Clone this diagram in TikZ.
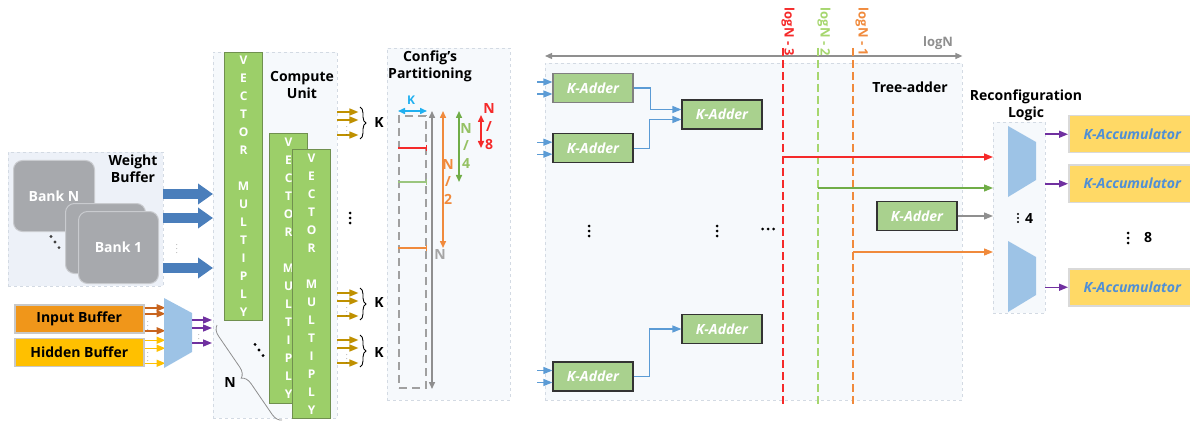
\documentclass[tikz,border=0pt]{standalone}
\usepackage{fontspec}
\setmainfont{Open Sans}
\usepackage{tikz}
\usetikzlibrary{shapes, arrows.meta, positioning, decorations.pathreplacing}
\definecolor{panelfill}{HTML}{F6F9FC}
\definecolor{panelline}{HTML}{D3DAE3}
\definecolor{wbfill}{HTML}{EDF1F8}
\definecolor{bankgray}{HTML}{A7A9AD}
\definecolor{banklight}{HTML}{C9CBCF}
\definecolor{fatblue}{HTML}{4A7EBB}
\definecolor{inorange}{HTML}{F0961A}
\definecolor{hidyellow}{HTML}{FFC000}
\definecolor{bufline}{HTML}{C8C8C8}
\definecolor{arrorange}{HTML}{C8641E}
\definecolor{muxblue}{HTML}{9DC3E6}
\definecolor{vpurple}{HTML}{7030A0}
\definecolor{vmgreen}{HTML}{9CCF69}
\definecolor{vmline}{HTML}{70904F}
\definecolor{kgold}{HTML}{BF9000}
\definecolor{kblue}{HTML}{20B0F0}
\definecolor{pred}{HTML}{F52A2A}
\definecolor{pgreen}{HTML}{70AD47}
\definecolor{lgreen}{HTML}{A6D66E}
\definecolor{porange}{HTML}{F08A3C}
\definecolor{pgray}{HTML}{8F8F8F}
\definecolor{partgray}{HTML}{A0A0A0}
\definecolor{addgreen}{HTML}{A9D18E}
\definecolor{wireblue}{HTML}{5B9BD5}
\definecolor{accyellow}{HTML}{FFD966}
\definecolor{accline}{HTML}{D9D9D9}
\definecolor{acctext}{HTML}{4F8FD6}
\newcommand{\lbl}{\bfseries\fontsize{14}{17}\selectfont}
\newcommand{\vmtext}{V\\E\\C\\T\\O\\R\\[18pt]M\\U\\L\\T\\I\\P\\L\\Y}
\tikzstyle{panel} = [draw=panelline, dashed, fill=panelfill, rectangle,
    inner sep=0pt, anchor=north west]
\tikzstyle{bank} = [draw=banklight, line width=1pt, fill=bankgray, rectangle,
    rounded corners=9pt, anchor=north west, text=white, font=\lbl]
\tikzstyle{buffer} = [draw=bufline, line width=1.5pt, rectangle,
    minimum width=129pt, minimum height=28pt, font=\lbl]
\tikzstyle{vecmul} = [draw=vmline, line width=1.2pt, fill=vmgreen, rectangle,
    anchor=north west, minimum width=38pt, inner sep=0pt, align=center,
    text=white, font=\bfseries\fontsize{12}{18}\selectfont]
\tikzstyle{adder} = [draw=black!80, line width=1.2pt, fill=addgreen, rectangle,
    minimum width=80pt, minimum height=29pt, text=white,
    font=\bfseries\itshape\fontsize{14}{16}\selectfont]
\tikzstyle{accum} = [draw=accline, line width=1.5pt, fill=accyellow, rectangle,
    anchor=north west, minimum width=127pt, minimum height=37pt, text=acctext,
    font=\bfseries\itshape\fontsize{14}{16}\selectfont]
\tikzstyle{title} = [font=\lbl, align=center]
\tikzstyle{tinydots} = [font=\fontsize{6}{6}\selectfont, inner sep=0pt, text=black!70]
\tikzstyle{arr} = [line width=1.5pt, -{Triangle[length=9pt,width=7pt]}]
\tikzstyle{dbl} = [line width=1.5pt, {Triangle[length=7pt,width=6pt]}-{Triangle[length=7pt,width=6pt]}]
\tikzstyle{fat} = [draw=fatblue, line width=10pt, -{Triangle[length=15pt,width=20pt]}]
\tikzstyle{wire} = [draw=wireblue, line width=1.2pt, -{Triangle[length=9pt,width=7pt]}]
\tikzstyle{vdash} = [line width=1.5pt, dash pattern=on 8pt off 4pt]
\tikzset{
    vdots/.pic={\foreach \i in {-5,0,5} \fill (0,\i) circle (1.5);},
    hdots/.pic={\foreach \i in {-5.5,0,5.5} \fill (\i,0) circle (1.5);},
    ddots/.pic={\foreach \i in {-4,0,4} \fill (\i,1.4*\i) circle (1.6);}
}

\begin{document}
\begin{tikzpicture}[x=1pt, y=-1pt, node distance=4pt]
    \useasboundingbox (0,0) rectangle (1190,422);
    \node [panel, fill=wbfill, minimum width=155pt, minimum height=134pt] (wbuf) at (8,152) {};
    \node [panel, minimum width=124pt, minimum height=366pt] (cu) at (213,52) {};
    \node [panel, minimum width=123pt, minimum height=352pt] (cfg) at (387,48) {};
    \node [panel, minimum width=417pt, minimum height=337pt] (tree) at (545,63) {};
    \node [panel, minimum width=52pt, minimum height=191pt] (recon) at (993,122) {};

    \node [bank, minimum width=81pt, minimum height=71pt] (bankN) at (13,160) {Bank N};
    \node [bank, minimum width=80pt, minimum height=70pt] (bankB) at (65,203) {};
    \node [bank, minimum width=80pt, minimum height=72pt] (bank1) at (78,211) {Bank 1};
    \pic [black!75] at (55,242) {ddots};
    \node [title] (wbtitle) at (133,169) {Weight\\Buffer};
    \foreach \y in {194,218,268}
        \draw [fat] (wbuf.east |- 0,\y) -- (cu.west |- 0,\y);
    \node [tinydots] (wdots) at (177,246) {$\vdots$};

    \node [buffer, fill=inorange, anchor=north west] (inbuf) at (14,304) {Input Buffer};
    \node [buffer, fill=hidyellow, below=of inbuf] (hidbuf) {Hidden Buffer};
    \foreach \d in {11,5,-12}
        \draw [arr, arrorange] ([yshift=\d]inbuf.east) -- ++(21,0);
    \foreach \d in {12,4,-11}
        \draw [arr, hidyellow] ([yshift=\d]hidbuf.east) -- ++(21,0);
    \node [tinydots] at (148,323) {$\vdots$};
    \node [tinydots] at (148,354) {$\vdots$};
    \fill [muxblue] (164,298) -- (192,313) -- (192,352) -- (164,368) -- cycle;
    \coordinate (lmux) at (192,332);
    \foreach \d in {12,4,-11}
        \draw [arr, vpurple] ([yshift=\d]lmux) -- ++(20,0);
    \node [tinydots] at (199,336) {$\vdots$};

    \node [vecmul, minimum height=268pt] (vm1) at (224,52) {\vmtext};
    \node [vecmul, minimum height=270pt] (vm2) at (269,133) {\vmtext};
    \node [vecmul, minimum height=269pt] (vm3) at (292,149) {\vmtext};
    \node [title] (cutitle) at (302,85) {Compute\\Unit};
    \pic at (259,350) {ddots};
    \pic at (350,218) {vdots};
    \draw [pgray, line width=0.8pt, decorate, decoration={brace, amplitude=10pt}]
        (282,420) -- (217,325);
    \node [font=\lbl] (nlbl) at (230,383) {N};
    \foreach \y/\k in {112/123,293/303,340/352} {
        \foreach \d in {0,8,23}
            \draw [arr, kgold] (cu.east |- 0,\y+\d) -- ++(21,0);
        \node [tinydots] at (347,\y+16) {$\vdots$};
        \draw [line width=0.9pt, decorate, decoration={brace, amplitude=6pt}]
            (360,\y-5) -- (360,\y+27);
        \node [font=\lbl] at (379,\k) {K};
    }

    \node [title] (cfgtitle) at (430,66) {Config’s\\Partitioning};
    \node [draw=partgray, line width=2pt, dash pattern=on 8pt off 5pt, rectangle,
        inner sep=0pt, anchor=north west, minimum width=27pt, minimum height=272pt] (part) at (398,115) {};
    \draw [dbl, kblue] ([yshift=4pt]part.north west) -- ([yshift=4pt]part.north east);
    \node [text=kblue, font=\bfseries\fontsize{12}{12}\selectfont] (klbl) at (411,100) {K};
    \coordinate (p8) at (part.east |- 0,148);
    \coordinate (p4) at (part.east |- 0,182);
    \coordinate (p2) at (part.east |- 0,248);
    \draw [pred, line width=1.2pt, -{Bar[width=6pt]}] (part.west |- p8) -- (p8);
    \draw [pgreen!70, line width=1.2pt, -{Bar[width=6pt]}] (part.west |- p4) -- (p4);
    \draw [porange, line width=1.2pt, -{Bar[width=6pt]}] (part.west |- p2) -- (p2);
    \draw [dbl, pgray] ([xshift=5pt,yshift=4pt]part.north east) -- ([xshift=5pt]part.south east);
    \draw [dbl, porange] ([xshift=16pt,yshift=4pt]part.north east) -- ([xshift=16pt]p2);
    \draw [dbl, pgreen] ([xshift=32pt,yshift=4pt]part.north east) -- ([xshift=32pt]p4);
    \draw [dbl, pred] ([xshift=54pt]part.north east) -- ([xshift=54pt]p8);
    \node [font=\lbl, text=pgray!80] (nN) at (440,255) {N};
    \node [title, font=\bfseries\fontsize{14}{17.5}\selectfont, text=porange] (n2) at (448,182) {N\\/\\2};
    \node [title, font=\bfseries\fontsize{14}{17.5}\selectfont, text=lgreen!90!black] (n4) at (466,146) {N\\/\\4};
    \node [title, font=\bfseries\fontsize{14}{18}\selectfont, text=pred] (n8) at (489,127) {N\\/\\8};

    \draw [dbl, pgray, line width=1.2pt] ([yshift=7pt]tree.north west) -- ([yshift=7pt]tree.north east);
    \node [font=\bfseries\fontsize{13}{13}\selectfont, text=pgray] (lognlbl) at (938,43) {logN};
    \foreach \x/\c/\n/\tx in {783/pred/3/788,818/lgreen/2/824,853/porange/1/862} {
        \coordinate (d\n) at (\x,48);
        \draw [vdash, \c] (d\n) -- (\x,406);
        \node [rotate=-90, text=\c, font=\bfseries\fontsize{13}{13}\selectfont] at (\tx,32) {logN - \n};
    }
    \node [title] (treetitle) at (910,87) {Tree-adder};

    \node [adder, draw=gray] (a1) at (593,88) {K-Adder};
    \node [adder, below=30pt of a1] (a2) {K-Adder};
    \node [adder] (b1) at (722,114.5) {K-Adder};
    \node [adder] (a3) at (593,376.5) {K-Adder};
    \node [adder] (b2) at (722,329) {K-Adder};
    \node [adder] (c1) at (917,216) {K-Adder};
    \foreach \n in {a1,a2,a3}
        \foreach \d in {6,-6}
            \draw [wire] ([xshift=-15pt,yshift=\d]\n.west) -- ([yshift=\d]\n.west);
    \draw [wire] (a1.east) -- ++(17,0) |- ([yshift=5pt]b1.west);
    \draw [wire] (a2.east) -- ++(16,0) |- ([yshift=-5pt]b1.west);
    \draw [wire] (a3.east) -- ++(16,0) |- (b2.west);
    \pic at (589,231) {vdots};
    \pic at (717,231) {vdots};
    \pic at (768,229) {hdots};

    \draw [arr, pred] (d3 |- 0,157) -- (recon.west |- 0,157);
    \draw [arr, pgreen, line width=1.2pt] (d2 |- 0,188) -- (recon.west |- 0,188);
    \draw [arr, pgray, line width=1.2pt] (c1.east) -- (recon.west |- c1.east);
    \draw [arr, porange, line width=1.2pt] (d1 |- 0,252) -- (recon.west |- 0,252);

    \node [title] (rctitle) at (1026,105.5) {Reconfiguration\\Logic};
    \fill [muxblue] (1008,126) -- (1036,142) -- (1036,180) -- (1008,197) -- cycle;
    \fill [muxblue] (1008,241) -- (1036,257) -- (1036,295) -- (1008,312) -- cycle;
    \pic [scale=0.8] at (1018,218) {vdots};
    \node [font=\lbl] (mux4) at (1029,219) {4};

    \node [accum] (acc1) at (1068,115) {K-Accumulator};
    \node [accum, below=11pt of acc1] (acc2) {K-Accumulator};
    \node [accum] (acc3) at (1068,268) {K-Accumulator};
    \foreach \n in {acc1,acc2,acc3}
        \draw [arr, vpurple] (recon.east |- \n.west) -- (\n.west);
    \pic at (1128,238) {vdots};
    \node [font=\lbl] (acc8) at (1148,238) {8};
\end{tikzpicture}
\end{document}
